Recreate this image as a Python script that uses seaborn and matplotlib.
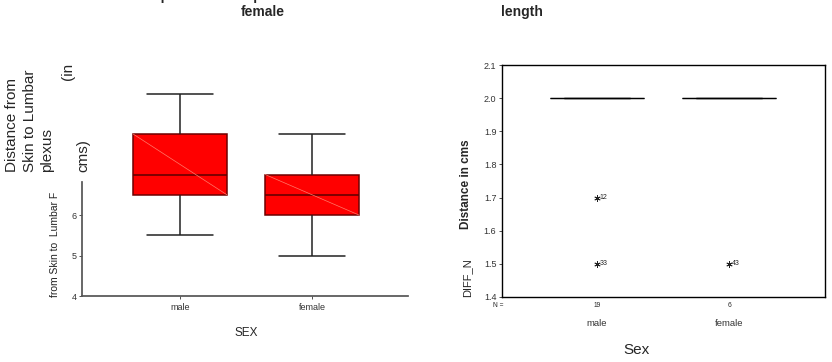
import numpy as np
import pandas as pd
import matplotlib
matplotlib.use('Agg')
import matplotlib.pyplot as plt
import seaborn as sns

# left chart: depth of lumbar plexus (cm), five values per group give the box stats
sex_order = ['male', 'female']
male_depth = [5.5, 6.5, 7.0, 8.0, 9.0]
female_depth = [5.0, 6.0, 6.5, 7.0, 8.0]

# right chart: DIFF_N per case
male_diff = [2.0, 2.0, 2.0, 2.0, 2.0, 2.0, 2.0, 2.0, 2.0, 2.0,
             2.0, 2.0, 2.0, 2.0, 2.0, 2.0, 2.0, 1.7, 1.5]
male_case = ['', '', '', '', '', '', '', '', '', '',
             '', '', '', '', '', '', '', '12', '33']
female_diff = [2.0, 2.0, 2.0, 2.0, 2.0, 1.5]
female_case = ['', '', '', '', '', '43']

depth_df = pd.DataFrame({'SEX': ['male'] * len(male_depth) + ['female'] * len(female_depth),
                         'depth': male_depth + female_depth})
diff_df = pd.DataFrame({'Sex': ['male'] * len(male_diff) + ['female'] * len(female_diff),
                        'DIFF_N': male_diff + female_diff,
                        'case': male_case + female_case})

sns.set_theme(style='white')
plt.rcParams['font.family'] = ['Liberation Sans', 'DejaVu Sans']

W, H = 832, 362
fig = plt.figure(figsize=(W / 100, H / 100), dpi=100)


def box(l, t, r, b):
    return [l / W, 1 - b / H, (r - l) / W, (b - t) / H]


# ---------------- left chart ----------------
ax1 = fig.add_axes(box(82, 60, 408, 296))
sns.boxplot(data=depth_df, x='SEX', y='depth', order=sex_order, ax=ax1,
            color='red', saturation=1, width=0.71, capwidths=0.5,
            linewidth=1.1, linecolor='black',
            boxprops=dict(edgecolor='#6e0000'),
            medianprops=dict(color='#5a0000'),
            whiskerprops=dict(color='#222222'), capprops=dict(color='#222222'))

# faint diagonal inside each box (rendering artefact of the original)
for i, vals in enumerate([male_depth, female_depth]):
    q1, q3 = np.percentile(vals, [25, 75])
    ax1.plot([i - 0.355, i + 0.355], [q3, q1], color='#ff7a6a', lw=0.5, zorder=5)

ax1.set_xlim(-0.742, 1.727)
ax1.set_ylim(4, 4 + 236 / 40.5)
ax1.set_yticks([4, 5, 6])
ax1.set_xlabel('')
ax1.set_ylabel('')
for s in ['top', 'right']:
    ax1.spines[s].set_visible(False)
ax1.spines['left'].set_bounds(4, 6.81)
ax1.spines['left'].set_color('#555555')
ax1.spines['bottom'].set_color('#555555')
ax1.tick_params(axis='y', left=True, length=2, width=0.6, pad=2, labelsize=6.5, colors='#333333')
ax1.tick_params(axis='x', bottom=True, length=2, width=0.6, pad=3, labelsize=6.5, colors='#333333')

# title: first line runs off the top edge of the picture, as in the original
fig.text(263 / W, 1 + 4 / H, 'Mean depth of lumbar plexus between male and',
         ha='center', va='center', fontsize=10, fontweight='bold')
fig.text(263 / W, 1 - 12 / H, 'female', ha='center', va='center', fontsize=10, fontweight='bold')
fig.text(29.5 / W, 1 - 172 / H, 'Distance from\nSkin to Lumbar\nplexus', rotation=90,
         ha='center', va='bottom', multialignment='left', fontsize=11, linespacing=1.3)
fig.text(68 / W, 1 - 80 / H, '(in', rotation=90, ha='center', va='bottom', fontsize=11)
fig.text(83 / W, 1 - 172 / H, 'cms)', rotation=90, ha='center', va='bottom', fontsize=11)
fig.text(55 / W, 1 - 297 / H, 'from Skin to  Lumbar F', rotation=90,
         ha='center', va='bottom', fontsize=7.5, color='#222222')
fig.text(246 / W, 1 - 333 / H, 'SEX', ha='center', va='center', fontsize=8.5)

# ---------------- right chart ----------------
ax2 = fig.add_axes(box(502, 65, 825, 297))
sns.boxplot(data=diff_df, x='Sex', y='DIFF_N', order=sex_order, ax=ax2,
            color='white', saturation=1, width=0.71, capwidths=0.5,
            linewidth=0.9, linecolor='black',
            flierprops=dict(marker=(6, 2, 0), markersize=4.5, markeredgecolor='#222222',
                            markeredgewidth=0.6))
for i, sex in enumerate(sex_order):
    sub = diff_df[(diff_df['Sex'] == sex) & (diff_df['case'] != '')]
    for _, row in sub.iterrows():
        ax2.annotate(row['case'], xy=(i, row['DIFF_N']), xytext=(2, 0),
                     textcoords='offset points', ha='left', va='center', fontsize=5)
    n = (diff_df['Sex'] == sex).sum()
    ax2.annotate(str(n), xy=(i, 0), xycoords=('data', 'axes fraction'), xytext=(0, -6),
                 textcoords='offset points', ha='center', va='center', fontsize=4.8)
ax2.annotate('N =', xy=(0, 0), xycoords='axes fraction', xytext=(-3, -6),
             textcoords='offset points', ha='center', va='center', fontsize=4.8)

ax2.set_xlim(-0.72, 1.727)
ax2.set_ylim(1.4, 2.1)
ax2.set_yticks([1.4, 1.5, 1.6, 1.7, 1.8, 1.9, 2.0, 2.1])
ax2.set_xlabel('')
ax2.set_ylabel('')
for s in ax2.spines.values():
    s.set_color('black')
    s.set_linewidth(1.0)
ax2.tick_params(axis='y', left=True, length=2, width=0.6, pad=2, labelsize=6.5, colors='#333333')
ax2.tick_params(axis='x', bottom=False, pad=10, labelsize=6.8, colors='#333333')

fig.text(522 / W, 1 - 12 / H, 'length', ha='center', va='center', fontsize=10, fontweight='bold')
fig.text(466 / W, 1 - 184 / H, 'Distance in cms', rotation=90, ha='center', va='center',
         fontsize=8.5, fontweight='bold')
fig.text(467 / W, 1 - 297 / H, 'DIFF_N', rotation=90, ha='center', va='bottom', fontsize=8)
fig.text(636 / W, 1 - 350 / H, 'Sex', ha='center', va='center', fontsize=11)

fig.savefig('out.png', dpi=100)
